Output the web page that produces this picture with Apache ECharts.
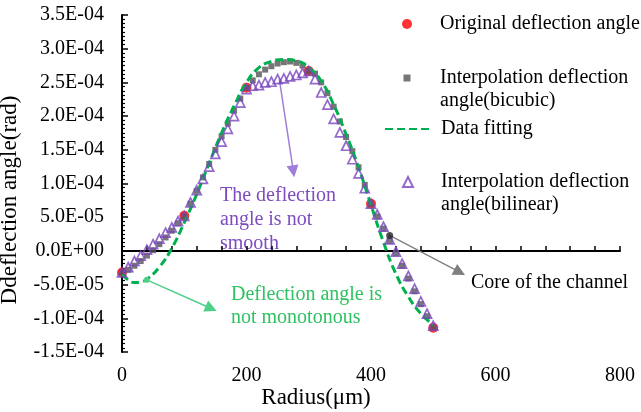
<!DOCTYPE html>
<html>
<head>
<meta charset="utf-8">
<script src="https://cdn.jsdelivr.net/npm/echarts@6/dist/echarts.min.js"></script>
<style>
  html, body { margin: 0; padding: 0; background: #fff; }
  #chart { width: 641px; height: 412px; }
</style>
</head>
<body>
<div id="chart"></div>
<script>
// Radius samples (µm)
const originalRadius = [0, 100, 200, 300, 400, 500];
const originalAngle = [-3.2e-5, 5.2e-5, 2.42e-4, 2.67e-4, 7.0e-5, -1.14e-4];

const interpRadius = [
  0, 10, 20, 30, 40, 50, 60, 70, 80, 90,
  100, 110, 120, 130, 140, 150, 160, 170, 180, 190,
  200, 210, 220, 230, 240, 250, 260, 270, 280, 290,
  300, 310, 320, 330, 340, 350, 360, 370, 380, 390,
  400, 410, 420, 430, 440, 450, 460, 470, 480, 490, 500
];

const bicubicAngle = [
  -3.2e-5, -2.8e-5, -2.2e-5, -1.5e-5, -7e-6, 1e-6, 1.0e-5, 2.0e-5, 3.0e-5, 4.1e-5,
  5.2e-5, 7.0e-5, 8.9e-5, 1.09e-4, 1.29e-4, 1.50e-4, 1.70e-4, 1.89e-4, 2.08e-4, 2.26e-4,
  2.42e-4, 2.53e-4, 2.62e-4, 2.69e-4, 2.74e-4, 2.78e-4, 2.80e-4, 2.81e-4, 2.79e-4, 2.75e-4,
  2.67e-4, 2.63e-4, 2.50e-4, 2.34e-4, 2.14e-4, 1.92e-4, 1.69e-4, 1.48e-4, 1.24e-4, 9.8e-5,
  7.0e-5, 5.1e-5, 3.3e-5, 1.5e-5, -3e-6, -2.2e-5, -4.1e-5, -6.0e-5, -7.9e-5, -9.7e-5, -1.14e-4
];

const bilinearAngle = [
  -3.2e-5, -2.4e-5, -1.5e-5, -7e-6, 2e-6, 1.0e-5, 1.8e-5, 2.7e-5, 3.5e-5, 4.4e-5,
  5.2e-5, 7.2e-5, 9.0e-5, 1.07e-4, 1.25e-4, 1.44e-4, 1.62e-4, 1.81e-4, 2.00e-4, 2.20e-4,
  2.40e-4, 2.45e-4, 2.46e-4, 2.50e-4, 2.51e-4, 2.55e-4, 2.56e-4, 2.59e-4, 2.61e-4, 2.64e-4,
  2.67e-4, 2.55e-4, 2.35e-4, 2.17e-4, 1.96e-4, 1.76e-4, 1.56e-4, 1.36e-4, 1.15e-4, 9.3e-5,
  7.0e-5, 5.4e-5, 3.6e-5, 1.7e-5, -1e-6, -1.9e-5, -3.7e-5, -5.6e-5, -7.5e-5, -9.3e-5, -1.11e-4
];

const fitRadius = [0, 10, 20, 30, 40, 60, 80, 100, 120, 140, 160, 180, 200, 220, 240,
  260, 280, 300, 320, 340, 360, 380, 400, 420, 440, 460, 480, 500];
const fitAngle = [-3.5e-5, -4.3e-5, -4.7e-5, -4.6e-5, -4.2e-5, -2.4e-5, 4e-6, 4.2e-5,
  8.4e-5, 1.30e-4, 1.75e-4, 2.15e-4, 2.50e-4, 2.72e-4, 2.81e-4, 2.84e-4, 2.82e-4,
  2.72e-4, 2.52e-4, 2.17e-4, 1.73e-4, 1.24e-4, 6.8e-5, 1.3e-5, -3.4e-5, -6.8e-5,
  -9.3e-5, -1.10e-4];

const coreRadius = [430];
const coreAngle = [2.3e-5];

const names = {
  original: 'Original deflection angle',
  bicubic: 'Interpolation deflection\nangle(bicubic)',
  fitting: 'Data fitting',
  bilinear: 'Interpolation deflection\nangle(bilinear)'
};

const FONT = 'Liberation Serif';
const zip = (xs, ys) => xs.map((x, i) => [x, ys[i]]);

function sciLabel(v) {
  if (Math.abs(v) < 1e-12) return '0.0E+00';
  const parts = v.toExponential(1).split('e');
  const n = parseInt(parts[1], 10);
  return parts[0] + 'E' + (n < 0 ? '-' : '+') + String(Math.abs(n)).padStart(2, '0');
}

const chart = echarts.init(document.getElementById('chart'), null, { renderer: 'canvas' });

// legend entries: marker centred at x=407, text starting at x=440
function legendEntry(name, size, top, padLeft, twoLine) {
  return {
    data: [name], left: 407 - size / 2, top: top, padding: 0,
    itemWidth: size, itemHeight: size, selectedMode: false,
    formatter: twoLine ? (n => '\n' + n) : undefined,
    textStyle: { fontFamily: FONT, fontSize: 20, color: '#000',
      lineHeight: twoLine ? 23 : 24, padding: [0, 0, 0, padLeft] }
  };
}

chart.setOption({
  animation: false,
  backgroundColor: '#fff',
  grid: { left: 122, top: 15, right: 21, bottom: 60, outerBoundsMode: 'none' },
  legend: [
    legendEntry(names.original, 10, 12, 23, false),
    legendEntry(names.bicubic, 7, 43.5, 24.5, true),
    { data: [names.fitting], left: 384, top: 117, padding: 0, itemWidth: 48, itemHeight: 14,
      selectedMode: false,
      itemStyle: { color: 'rgba(0,0,0,0)', borderWidth: 0 },
      textStyle: { fontFamily: FONT, fontSize: 20, color: '#000', lineHeight: 24, padding: [0, 0, 0, 3] } },
    legendEntry(names.bilinear, 10, 147.5, 23, true)
  ],
  xAxis: {
    type: 'value', min: 0, max: 800, interval: 200,
    axisLine: { show: true, lineStyle: { color: '#000', width: 2 } },
    axisTick: { show: true, inside: true, length: 5, lineStyle: { color: '#000', width: 1.5 } },
    minorTick: { show: true, splitNumber: 5, length: 5, lineStyle: { color: '#000', width: 1.5 } },
    splitLine: { show: false },
    axisLabel: { fontFamily: FONT, fontSize: 20, color: '#000', margin: 14 },
    name: 'Radius(μm)', nameLocation: 'middle', nameGap: 34, nameMoveOverlap: false,
    nameTextStyle: { fontFamily: FONT, fontSize: 23, color: '#000', padding: [0, 110, 0, 0] }
  },
  yAxis: {
    type: 'value', min: -1.5e-4, max: 3.5e-4, interval: 5e-5,
    axisLine: { show: true, lineStyle: { color: '#000', width: 2 } },
    axisTick: { show: true, inside: true, length: 6, lineStyle: { color: '#000', width: 1.5 } },
    minorTick: { show: true, splitNumber: 8, length: 3, lineStyle: { color: '#000', width: 1.2 } },
    splitLine: { show: false },
    axisLabel: { fontFamily: FONT, fontSize: 20, color: '#000', margin: 18, formatter: sciLabel },
    name: 'Ddeflection angle(rad)', nameLocation: 'middle', nameGap: 101, nameRotate: 90,
    nameMoveOverlap: false,
    nameTextStyle: { fontFamily: FONT, fontSize: 23, color: '#000', padding: [0, 33, 0, 0] }
  },
  series: [
    {
      name: names.original, type: 'scatter', z: 2,
      symbol: 'circle', symbolSize: 10,
      itemStyle: { color: '#ff0000' },
      data: zip(originalRadius, originalAngle)
    },
    {
      name: names.bicubic, type: 'scatter', z: 3,
      symbol: 'rect', symbolSize: 6,
      itemStyle: { color: '#545454' },
      data: zip(interpRadius, bicubicAngle)
    },
    {
      name: names.fitting, type: 'line', z: 4,
      smooth: true, symbol: 'none',
      lineStyle: { color: '#00b050', width: 3, type: [8, 4] },
      itemStyle: { color: '#00b050' },
      data: zip(fitRadius, fitAngle)
    },
    {
      name: names.bilinear, type: 'scatter', z: 5,
      symbol: 'triangle', symbolSize: 9,
      itemStyle: { color: 'rgba(255,255,255,0)', borderColor: '#7845bd', borderWidth: 1.7 },
      data: zip(interpRadius, bilinearAngle)
    },
    {
      name: 'core', type: 'scatter', z: 6,
      symbol: 'circle', symbolSize: 7,
      itemStyle: { color: '#262626' },
      data: zip(coreRadius, coreAngle),
      markLine: {
        silent: true,
        label: { show: false },
        emphasis: { disabled: true },
        data: [
          [
            { coord: [252.7, 2.55e-4], symbol: 'none', lineStyle: { color: '#a07fd8', width: 1.5, type: 'solid' } },
            { coord: [275.3, 1.18e-4], symbol: 'triangle', symbolSize: 12 }
          ],
          [
            { coord: [39.7, -4.3e-5], symbol: 'circle', symbolSize: 6, lineStyle: { color: '#4fd08a', width: 1.5, type: 'solid' } },
            { coord: [143.3, -8.55e-5], symbol: 'triangle', symbolSize: 12 }
          ],
          [
            { coord: [430, 2.3e-5], symbol: 'none', lineStyle: { color: '#7f7f7f', width: 1.3, type: 'solid' } },
            { coord: [542.5, -3.15e-5], symbol: 'triangle', symbolSize: 12 }
          ]
        ]
      }
    }
  ],
  graphic: [
    { type: 'text', left: 220, top: 184, silent: true,
      style: { text: 'The deflection\nangle is not\nsmooth', font: '20px "Liberation Serif"',
        lineHeight: 24, fill: '#7e4cc0' } },
    { type: 'text', left: 231, top: 283, silent: true,
      style: { text: 'Deflection angle is\nnot monotonous', font: '20px "Liberation Serif"',
        lineHeight: 23, fill: '#2fc162' } },
    { type: 'text', left: 471, top: 271, silent: true,
      style: { text: 'Core of the channel', font: '20px "Liberation Serif"',
        lineHeight: 24, fill: '#000' } }
  ]
});
</script>
</body>
</html>
